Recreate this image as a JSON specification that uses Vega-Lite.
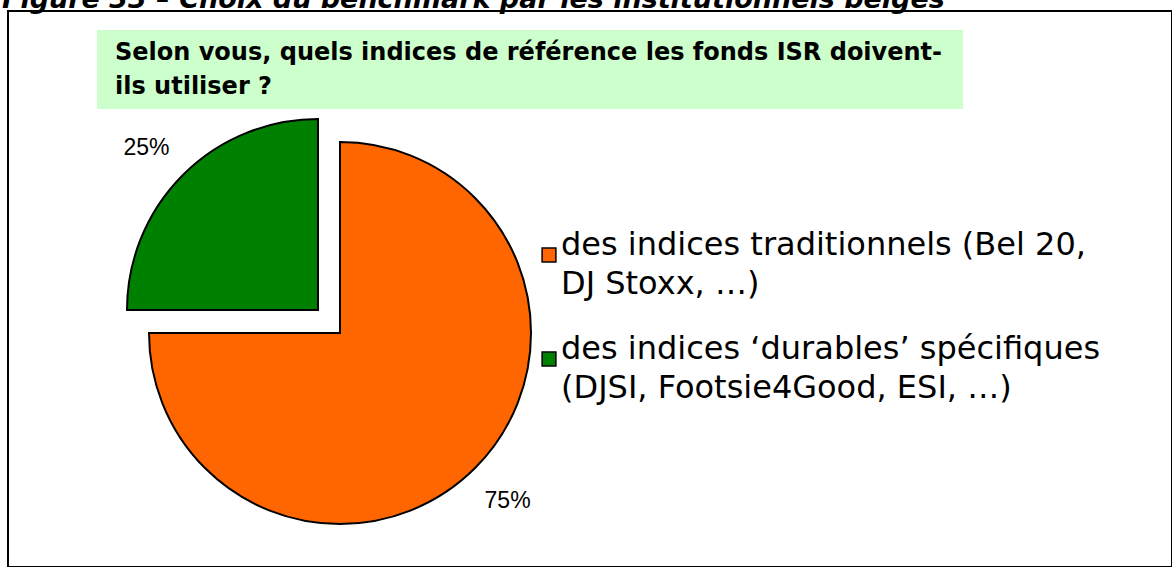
{
  "$schema": "https://vega.github.io/schema/vega-lite/v6.json",
  "autosize": "none",
  "width": 1164,
  "height": 556,
  "padding": {"left": 8, "top": 11, "right": 0, "bottom": 0},
  "background": "white",
  "view": {"stroke": "black", "strokeWidth": 2},
  "config": {
    "view": {"stroke": "black", "strokeWidth": 2},
    "style": {"guide-label": {"lineHeight": 39}}
  },
  "datasets": {
    "pie": [
      {"cat": "des indices traditionnels (Bel 20,\nDJ Stoxx, …)", "value": 75, "label": "75%"},
      {"cat": "des indices ‘durables’ spécifiques\n(DJSI, Footsie4Good, ESI, …)", "value": 25, "label": "25%"}
    ],
    "question": [
      {"text": "Selon vous, quels indices de référence les fonds ISR doivent-\nils utiliser ?"}
    ],
    "caption": [
      {"text": "Figure 33 – Choix du benchmark par les institutionnels belges"}
    ]
  },
  "layer": [
    {
      "data": {"name": "caption"},
      "mark": {"type": "text", "x": -6, "y": -3, "align": "left", "baseline": "alphabetic", "font": "DejaVu Sans", "fontWeight": "bold", "fontStyle": "italic", "fontSize": 27, "color": "black"},
      "encoding": {"text": {"field": "text"}}
    },
    {
      "data": {"name": "question"},
      "mark": {"type": "rect", "x": 89, "x2": 955, "y": 19, "y2": 98, "color": "#CCFFCC"},
      "encoding": {}
    },
    {
      "data": {"name": "question"},
      "mark": {"type": "text", "x": 107, "y": 49, "align": "left", "baseline": "alphabetic", "font": "DejaVu Sans", "fontWeight": "bold", "fontSize": 24, "lineHeight": 34, "lineBreak": "\n", "color": "black"},
      "encoding": {"text": {"field": "text"}}
    },
    {
      "data": {"name": "pie"},
      "mark": {"type": "arc", "x": 332, "y": 322, "radius": 191, "stroke": "black", "strokeWidth": 2},
      "encoding": {
        "theta": {"field": "value", "type": "quantitative", "stack": true},
        "order": {"field": "value", "sort": "descending"},
        "color": {
          "field": "cat", "type": "nominal",
          "scale": {"domain": ["des indices traditionnels (Bel 20,\nDJ Stoxx, …)", "des indices ‘durables’ spécifiques\n(DJSI, Footsie4Good, ESI, …)"], "range": ["#FF6600", "#008000"]},
          "legend": {
            "title": null,
            "orient": "none",
            "legendX": 525,
            "legendY": 228,
            "padding": 0,
            "symbolType": "square",
            "symbolSize": 190,
            "symbolStrokeColor": "black",
            "symbolStrokeWidth": 1.5,
            "labelFont": "DejaVu Sans",
            "labelFontSize": 32,
            "labelColor": "black",
            "labelLimit": 800,
            "labelOffset": -4,
            "labelBaseline": "alphabetic",
            "labelExpr": "split(datum.label, '\\n')",
            "rowPadding": 33
          }
        },
        "opacity": {"condition": {"test": "datum.value == 75", "value": 1}, "value": 0}
      }
    },
    {
      "data": {"name": "pie"},
      "mark": {"type": "arc", "x": 310, "y": 299, "radius": 191, "stroke": "black", "strokeWidth": 2},
      "encoding": {
        "theta": {"field": "value", "type": "quantitative", "stack": true},
        "order": {"field": "value", "sort": "descending"},
        "color": {"field": "cat", "type": "nominal"},
        "opacity": {"condition": {"test": "datum.value == 25", "value": 1}, "value": 0}
      }
    },
    {
      "data": {"name": "pie"},
      "mark": {"type": "text", "x": 332, "y": 322, "radius": 237, "font": "Liberation Sans", "fontSize": 23, "color": "black", "align": "center", "baseline": "middle"},
      "encoding": {
        "theta": {"field": "value", "type": "quantitative", "stack": true},
        "order": {"field": "value", "sort": "descending"},
        "text": {"field": "label"},
        "opacity": {"condition": {"test": "datum.value == 75", "value": 1}, "value": 0}
      }
    },
    {
      "data": {"name": "pie"},
      "mark": {"type": "text", "x": 306, "y": 305, "radius": 237, "font": "Liberation Sans", "fontSize": 23, "color": "black", "align": "center", "baseline": "middle"},
      "encoding": {
        "theta": {"field": "value", "type": "quantitative", "stack": true},
        "order": {"field": "value", "sort": "descending"},
        "text": {"field": "label"},
        "opacity": {"condition": {"test": "datum.value == 25", "value": 1}, "value": 0}
      }
    }
  ]
}
